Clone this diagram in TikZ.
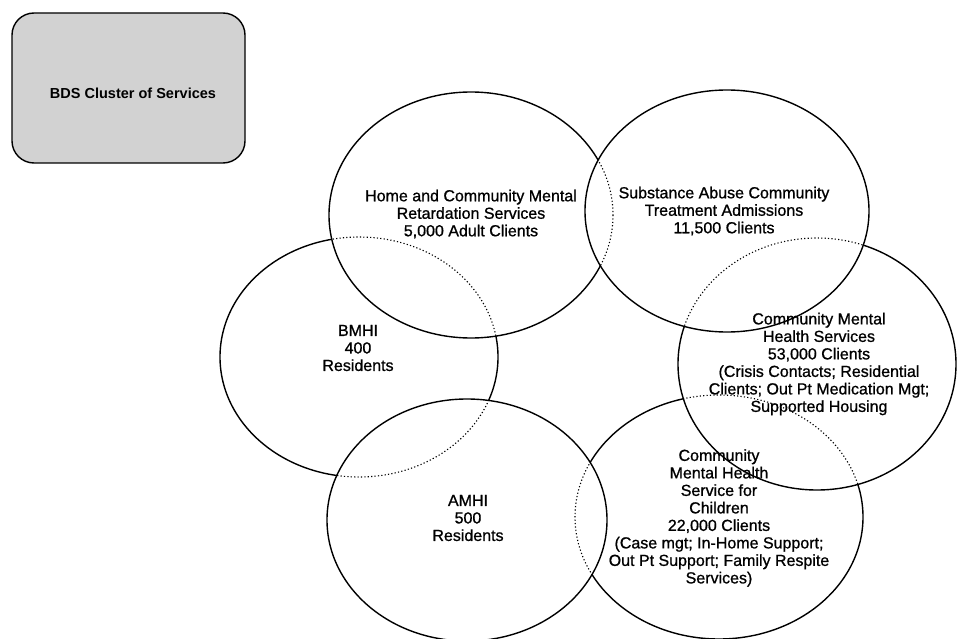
\documentclass[tikz,border=0pt]{standalone}
\usepackage{fontspec}
\setmainfont{Liberation Sans}
% slightly heavier face for the area labels
\newfontfamily\labelfont{Liberation Sans}[FakeBold=0.9]
\begin{document}
\begin{tikzpicture}[x=1pt,y=-1pt,
  ring/.style={line width=1.4pt},
  hidden/.style={line width=1.1pt, dash pattern=on 1.2pt off 2.2pt},
  lbl/.style={align=center, inner sep=0pt, font=\labelfont\fontsize{16}{17.5}\selectfont},
  headbox/.style={draw, line width=1.4pt, rounded corners=22pt, fill=gray!35,
                  minimum width=233pt, minimum height=150pt, inner sep=0pt},
  headtext/.style={inner sep=0pt, font=\fontsize{14.5}{16}\selectfont\bfseries}]

\useasboundingbox (0,0) rectangle (958,639);
\clip (0,0) rectangle (958,639);

% centres of the six service areas
\coordinate (cHome) at (471,215);
\coordinate (cSub)  at (727,211);
\coordinate (cBM)   at (359,357);
\coordinate (cCMH)  at (817,364);
\coordinate (cAM)   at (467,520);
\coordinate (cKid)  at (719,517);

% title box
\node[headbox] (bds) at (128.5,88) {};
\node[headtext] (bdsText) at (133,93) {BDS Cluster of Services};

% --- areas drawn fully solid
\draw[ring] (cSub) ellipse (142 and 121);
\draw[ring] (cAM) ellipse (140 and 121);

% --- Home and Community: hidden where it runs under Substance Abuse
\begin{scope}[even odd rule]
  \clip (0,0) -- (0,639) -- (958,639) -- (958,0) -- cycle
        (cSub) ellipse (142 and 121);
  \draw[ring] (cHome) ellipse (142 and 123);
\end{scope}
\begin{scope}
  \clip (cSub) ellipse (142 and 121);
  \draw[hidden] (cHome) ellipse (142 and 123);
\end{scope}

% --- BMHI: hidden under Home and Community and under AMHI
\begin{scope}[even odd rule]
  \clip (0,0) -- (0,639) -- (958,639) -- (958,0) -- cycle
        (cHome) ellipse (142 and 123)
        (cAM) ellipse (140 and 121);
  \draw[ring] (cBM) ellipse (139 and 120);
\end{scope}
\begin{scope}
  \clip (cHome) ellipse (142 and 123) (cAM) ellipse (140 and 121);
  \draw[hidden] (cBM) ellipse (139 and 120);
\end{scope}

% --- Community Mental Health: hidden under Substance Abuse
\begin{scope}[even odd rule]
  \clip (0,0) -- (0,639) -- (958,639) -- (958,0) -- cycle
        (cSub) ellipse (142 and 121);
  \draw[ring] (cCMH) ellipse (139 and 126);
\end{scope}
\begin{scope}
  \clip (cSub) ellipse (142 and 121);
  \draw[hidden] (cCMH) ellipse (139 and 126);
\end{scope}

% --- Children: hidden under Community Mental Health and under AMHI
\begin{scope}[even odd rule]
  \clip (0,0) -- (0,639) -- (958,639) -- (958,0) -- cycle
        (cCMH) ellipse (139 and 126)
        (cAM) ellipse (140 and 121);
  \draw[ring] (cKid) ellipse (144 and 122);
\end{scope}
\begin{scope}
  \clip (cCMH) ellipse (139 and 126) (cAM) ellipse (140 and 121);
  \draw[hidden] (cKid) ellipse (144 and 122);
\end{scope}

% labels
\node[lbl] (tHome) at (471,214) {Home and Community Mental\\Retardation Services\\5,000 Adult Clients};
\node[lbl] (tSub) at (724,211) {Substance Abuse Community\\Treatment Admissions\\11,500 Clients};
\node[lbl] (tBM) at (358,348) {BMHI\\400\\Residents};
\node[lbl] (tAM) at (468,518) {AMHI\\500\\Residents};
\node[lbl] (tCMH) at (819,364) {Community Mental\\Health Services\\53,000 Clients\\(Crisis Contacts; Residential\\Clients; Out Pt Medication Mgt;\\Supported Housing};
\node[lbl] (tKid) at (719,518) {Community\\Mental Health\\Service for\\Children\\22,000 Clients\\(Case mgt; In-Home Support;\\Out Pt Support; Family Respite\\Services)};

\end{tikzpicture}
\end{document}
